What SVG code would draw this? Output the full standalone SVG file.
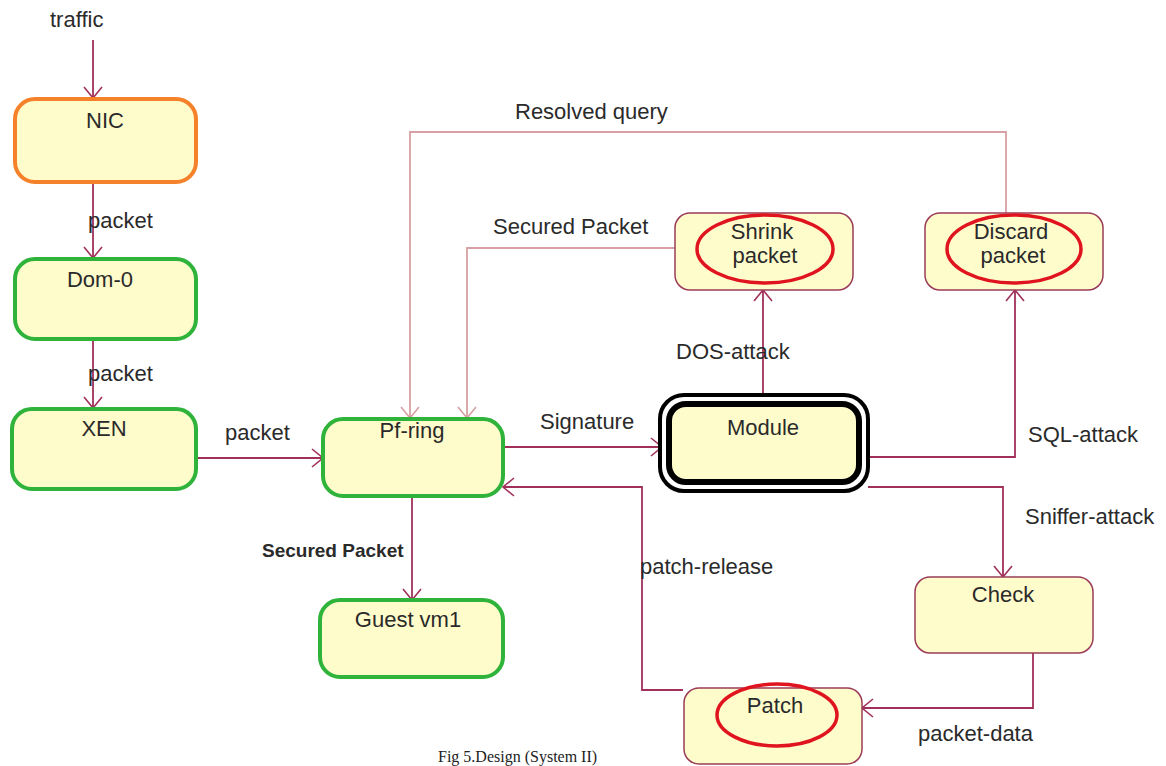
<svg xmlns="http://www.w3.org/2000/svg" width="1166" height="766" viewBox="0 0 1166 766">
  <defs>
    <style>
      .box { fill: #fffccc; }
      .green { stroke: #2fb33a; stroke-width: 4; }
      .orange { stroke: #f5822a; stroke-width: 4; }
      .thin { stroke: #9b3b5a; stroke-width: 1.5; }
      .oval { fill: none; stroke: #e0141e; stroke-width: 3.5; }
      .lbl { font-family: "Liberation Sans", Arial, sans-serif; font-size: 22px; fill: #2a2a2a; }
      .nodetxt { font-family: "Liberation Sans", Arial, sans-serif; font-size: 22px; fill: #2a2a2a; text-anchor: middle; }
      .bold { font-weight: bold; font-size: 19px; }
      .cap { font-family: "Liberation Serif", "Times New Roman", serif; font-size: 16px; fill: #222; }
      .wire { fill: none; stroke: #a0305a; stroke-width: 1.8; }
      .wire-lt { fill: none; stroke: #d6a0a4; stroke-width: 1.8; }
    </style>
    <marker id="vee" markerUnits="userSpaceOnUse" markerWidth="16" markerHeight="20" refX="12" refY="10" orient="auto">
      <path d="M1,1 L12,10 L1,19" fill="none" stroke="#a0305a" stroke-width="1.6"/>
    </marker>
    <marker id="vee-lt" markerUnits="userSpaceOnUse" markerWidth="16" markerHeight="20" refX="12" refY="10" orient="auto">
      <path d="M1,1 L12,10 L1,19" fill="none" stroke="#d6a0a4" stroke-width="1.6"/>
    </marker>
  </defs>

  <rect width="1166" height="766" fill="#ffffff"/>

  <!-- connectors -->
  <g id="connectors">
    <path class="wire" d="M93,40 V98" marker-end="url(#vee)"/>
    <path class="wire" d="M93,183 V258" marker-end="url(#vee)"/>
    <path class="wire" d="M93,340 V408" marker-end="url(#vee)"/>
    <path class="wire" d="M197,458 H323" marker-end="url(#vee)"/>
    <path class="wire" d="M503,447 H662" marker-end="url(#vee)"/>
    <path class="wire" d="M412,497 V600" marker-end="url(#vee)"/>
    <path class="wire" d="M763,396 V290" marker-end="url(#vee)"/>
    <path class="wire" d="M868,457 H1015 V290" marker-end="url(#vee)"/>
    <path class="wire" d="M868,487 H1003 V577" marker-end="url(#vee)"/>
    <path class="wire" d="M1033,653 V708 H862" marker-end="url(#vee)"/>
    <path class="wire" d="M683,690 H642 V487 H503" marker-end="url(#vee)"/>
    <path class="wire-lt" d="M675,248 H467 V418" marker-end="url(#vee-lt)"/>
    <path class="wire-lt" d="M1006,213 V132 H410 V418" marker-end="url(#vee-lt)"/>
  </g>

  <!-- connector labels -->
  <g id="labels">
    <text class="lbl" x="50" y="27">traffic</text>
    <text class="lbl" x="88" y="228">packet</text>
    <text class="lbl" x="88" y="381">packet</text>
    <text class="lbl" x="225" y="440">packet</text>
    <text class="lbl" x="540" y="429">Signature</text>
    <text class="lbl" x="493" y="234">Secured Packet</text>
    <text class="lbl" x="515" y="119">Resolved query</text>
    <text class="lbl" x="676" y="359">DOS-attack</text>
    <text class="lbl" x="1028" y="442">SQL-attack</text>
    <text class="lbl" x="1025" y="524">Sniffer-attack</text>
    <text class="lbl bold" x="262" y="557">Secured Packet</text>
    <text class="lbl" x="640" y="574">patch-release</text>
    <text class="lbl" x="918" y="741">packet-data</text>
  </g>

  <g id="nic">
    <rect class="box orange" x="15" y="99" width="181" height="83" rx="20"/>
    <text class="nodetxt" x="105" y="128">NIC</text>
  </g>
  <g id="dom0">
    <rect class="box green" x="15" y="259" width="181" height="80" rx="20"/>
    <text class="nodetxt" x="100" y="287">Dom-0</text>
  </g>
  <g id="xen">
    <rect class="box green" x="12" y="409" width="184" height="80" rx="20"/>
    <text class="nodetxt" x="104" y="436">XEN</text>
  </g>
  <g id="pfring">
    <rect class="box green" x="323" y="419" width="180" height="77" rx="20"/>
    <text class="nodetxt" x="412" y="438">Pf-ring</text>
  </g>
  <g id="guestvm1">
    <rect class="box green" x="320" y="600" width="183" height="77" rx="20"/>
    <text class="nodetxt" x="408" y="627">Guest vm1</text>
  </g>
  <g id="module">
    <rect x="660" y="395" width="208" height="96" rx="24" fill="#ffffff" stroke="#000" stroke-width="4"/>
    <rect class="box" x="669" y="404" width="190" height="78" rx="17" stroke="#000" stroke-width="6"/>
    <text class="nodetxt" x="763" y="435">Module</text>
  </g>
  <g id="shrink">
    <rect class="box thin" x="675" y="213" width="178" height="77" rx="15"/>
    <ellipse class="oval" cx="765" cy="249" rx="68" ry="34"/>
    <text class="nodetxt" x="762" y="239">Shrink</text>
    <text class="nodetxt" x="765" y="263">packet</text>
  </g>
  <g id="discard">
    <rect class="box thin" x="925" y="213" width="178" height="77" rx="15"/>
    <ellipse class="oval" cx="1014" cy="249" rx="67" ry="34"/>
    <text class="nodetxt" x="1011" y="239">Discard</text>
    <text class="nodetxt" x="1013" y="263">packet</text>
  </g>
  <g id="check">
    <rect class="box thin" x="915" y="577" width="178" height="76" rx="15"/>
    <text class="nodetxt" x="1003" y="602">Check</text>
  </g>
  <g id="patch">
    <rect class="box thin" x="684" y="688" width="178" height="76" rx="15"/>
    <ellipse class="oval" cx="777" cy="715" rx="60" ry="31"/>
    <text class="nodetxt" x="775" y="713">Patch</text>
  </g>

  <text class="cap" x="438" y="762">Fig 5.Design (System II)</text>
</svg>
